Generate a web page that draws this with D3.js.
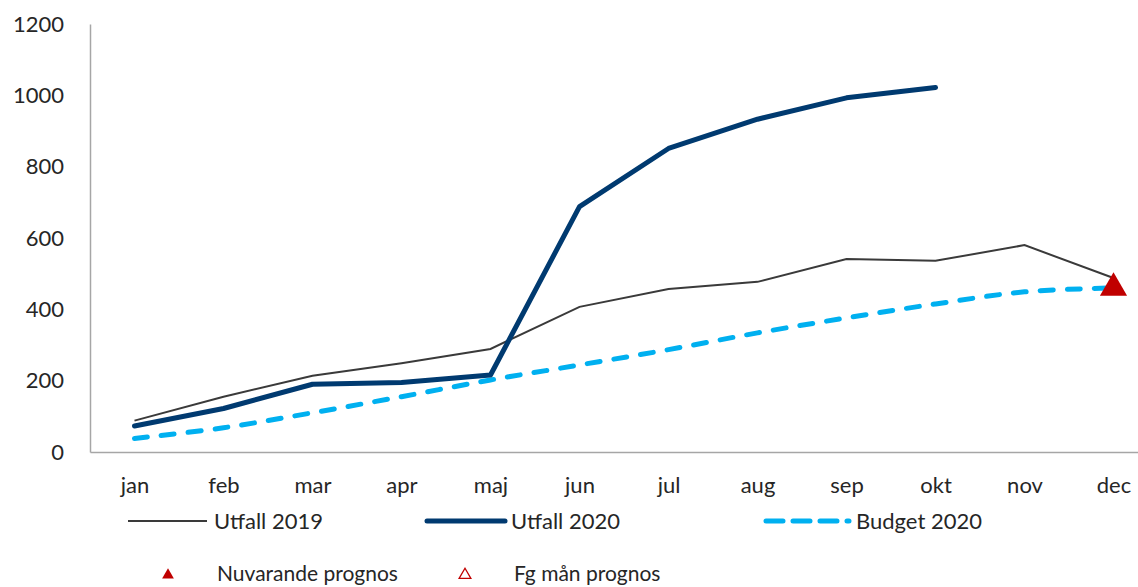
<!DOCTYPE html>
<html>
<head>
<meta charset="utf-8">
<script src="https://cdn.jsdelivr.net/npm/d3@7"></script>
<style>
  body { margin: 0; background: #fff; }
  text { font-family: Lato, "Open Sans", sans-serif; fill: #262626; }
</style>
</head>
<body>
<svg id="chart" width="1138" height="587"></svg>
<script>
// Chart data
const months = ["jan", "feb", "mar", "apr", "maj", "jun", "jul", "aug", "sep", "okt", "nov", "dec"];
const utfall2019 = [88, 155, 214, 249, 289, 407, 457, 477, 541, 536, 580, 488];
const utfall2020 = [73, 122, 190, 195, 216, 688, 851, 933, 993, 1022];
const budget2020 = [38, 68, 110, 155, 202, 244, 287, 334, 376, 415, 449, 460];
const prognosMonths = ["dec"];
const prognosValues = [460];
const yTicks = [0, 200, 400, 600, 800, 1000, 1200];

const svg = d3.select("#chart");

// Scales
const xScale = d3.scalePoint()
  .domain(months)
  .range([90, 1158])
  .padding(0.5);

const yScale = d3.scaleLinear()
  .domain([0, 1200])
  .range([452, 24]);

// Axes
const yAxis = svg.append("g")
  .attr("transform", "translate(90,0)")
  .call(d3.axisLeft(yScale).tickValues(yTicks).tickFormat(d3.format("d")).tickSize(0).tickPadding(26));
yAxis.select(".domain").attr("stroke", "#a6a6a6").attr("stroke-width", 1.5);
yAxis.selectAll("text")
  .attr("font-size", "22px")
  .attr("font-family", "Lato, sans-serif")
  .attr("fill", "#262626");

const xAxis = svg.append("g")
  .attr("transform", "translate(0,452)")
  .call(d3.axisBottom(xScale).tickSize(0).tickPadding(25));
xAxis.select(".domain").attr("stroke", "#a6a6a6").attr("stroke-width", 1.5);
xAxis.selectAll("text")
  .attr("font-size", "22px")
  .attr("font-family", "Lato, sans-serif")
  .attr("fill", "#262626");

// Lines
const line = d3.line()
  .x((d, i) => xScale(months[i]))
  .y(d => yScale(d));

svg.append("path")
  .datum(budget2020)
  .attr("fill", "none")
  .attr("stroke", "#00b0f0")
  .attr("stroke-width", 5)
  .attr("stroke-dasharray", "13,14")
  .attr("stroke-linecap", "round")
  .attr("d", line.curve(d3.curveCatmullRom));

svg.append("path")
  .datum(utfall2019)
  .attr("fill", "none")
  .attr("stroke", "#3a3a3a")
  .attr("stroke-width", 2)
  .attr("d", line.curve(d3.curveLinear));

svg.append("path")
  .datum(utfall2020)
  .attr("fill", "none")
  .attr("stroke", "#003a70")
  .attr("stroke-width", 5)
  .attr("stroke-linecap", "round")
  .attr("stroke-linejoin", "round")
  .attr("d", line.curve(d3.curveLinear));

// Current forecast marker
const triangle = d3.symbol().type(d3.symbolTriangle);
svg.selectAll(".prognos")
  .data(prognosValues)
  .enter()
  .append("path")
  .attr("class", "prognos")
  .attr("d", triangle.size(320))
  .attr("transform", (d, i) => `translate(${ xScale(prognosMonths[i]) }, ${ yScale(d) })`)
  .attr("fill", "#c00000");

// Legend
const legend = svg.append("g");

legend.append("line")
  .attr("x1", 128).attr("x2", 207).attr("y1", 521).attr("y2", 521)
  .attr("stroke", "#3a3a3a").attr("stroke-width", 2);
legend.append("text").attr("x", 214).attr("y", 529).attr("font-size", "22px").text("Utfall 2019");

legend.append("line")
  .attr("x1", 427).attr("x2", 505).attr("y1", 521).attr("y2", 521)
  .attr("stroke", "#003a70").attr("stroke-width", 5).attr("stroke-linecap", "round");
legend.append("text").attr("x", 511).attr("y", 529).attr("font-size", "22px").text("Utfall 2020");

legend.append("line")
  .attr("x1", 766).attr("x2", 849).attr("y1", 521).attr("y2", 521)
  .attr("stroke", "#00b0f0").attr("stroke-width", 5)
  .attr("stroke-dasharray", "17,10").attr("stroke-linecap", "round");
legend.append("text").attr("x", 856).attr("y", 529).attr("font-size", "22px").text("Budget 2020");

legend.append("path")
  .attr("d", triangle.size(60))
  .attr("transform", "translate(168,575)")
  .attr("fill", "#c00000");
legend.append("text").attr("x", 217).attr("y", 581).attr("font-size", "21px").text("Nuvarande prognos");

legend.append("path")
  .attr("d", triangle.size(60))
  .attr("transform", "translate(465,575)")
  .attr("fill", "none")
  .attr("stroke", "#c00000")
  .attr("stroke-width", 1.3);
legend.append("text").attr("x", 514).attr("y", 581).attr("font-size", "21px").text("Fg mån prognos");
</script>
</body>
</html>
